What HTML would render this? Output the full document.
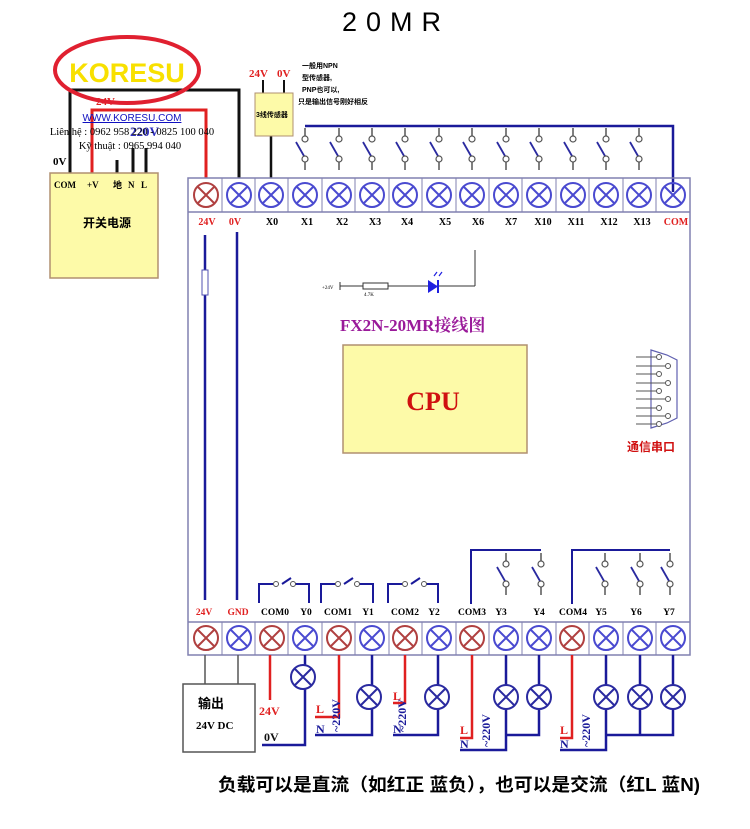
<!DOCTYPE html>
<html><head><meta charset="utf-8"><style>
html,body{margin:0;padding:0;background:#fff;width:750px;height:829px;overflow:hidden}
svg{display:block}
text{font-family:"Liberation Serif","Noto Serif CJK SC",serif;font-weight:bold}
.cn{font-family:"Liberation Sans","Noto Sans CJK SC",sans-serif}
</style></head><body>
<svg width="750" height="829" viewBox="0 0 750 829" xmlns="http://www.w3.org/2000/svg">
<defs>
<g id="tb"><circle r="12" fill="none" stroke="#4a4ad0" stroke-width="2"/><path d="M-8.5,-8.5L8.5,8.5M8.5,-8.5L-8.5,8.5" stroke="#4a4ad0" stroke-width="2"/></g>
<g id="tr"><circle r="12" fill="none" stroke="#b04040" stroke-width="2"/><path d="M-8.5,-8.5L8.5,8.5M8.5,-8.5L-8.5,8.5" stroke="#b04040" stroke-width="2"/></g>
<g id="lp"><circle r="12" fill="#fff" stroke="#2a2aa0" stroke-width="2"/><path d="M-8.5,-8.5L8.5,8.5M8.5,-8.5L-8.5,8.5" stroke="#2a2aa0" stroke-width="2"/></g>
<g id="sw"><line x1="0" y1="-22" x2="0" y2="-14" stroke="#555" stroke-width="1.5"/><circle cy="-11" r="3" fill="#fff" stroke="#555" stroke-width="1.2"/><line x1="-9" y1="-8" x2="-1" y2="6" stroke="#2a2aa0" stroke-width="1.8"/><circle cy="9" r="3" fill="#fff" stroke="#555" stroke-width="1.2"/><line x1="0" y1="12" x2="0" y2="20" stroke="#555" stroke-width="1.5"/></g>
</defs>

<text x="342" y="31" font-size="27" letter-spacing="9" style="font-weight:normal;font-family:'Liberation Sans',sans-serif">20MR</text>

<!-- power supply wiring -->
<path d="M70,178V90H239V178" fill="none" stroke="#111" stroke-width="3"/>
<path d="M92,178V110H206V178" fill="none" stroke="#e02020" stroke-width="3"/>
<line x1="117" y1="160" x2="117" y2="178" stroke="#111" stroke-width="3"/>
<line x1="133" y1="148" x2="133" y2="178" stroke="#111" stroke-width="3"/>
<line x1="146" y1="148" x2="146" y2="178" stroke="#111" stroke-width="3"/>
<rect x="50" y="173" width="108" height="105" fill="#fdfaa8" stroke="#b09070" stroke-width="1.5"/>
<text x="54" y="188" font-size="9">COM</text><text x="87" y="188" font-size="9">+V</text><text x="113" y="188" font-size="9" class="cn">地</text><text x="128" y="188" font-size="9">N</text><text x="141" y="188" font-size="9">L</text>
<text x="83" y="227" font-size="12" class="cn">开关电源</text>
<text x="53" y="165" font-size="11">0V</text>
<text x="96" y="105" font-size="11" fill="#e02020">24V</text>
<text x="130" y="136" font-size="13" fill="#3030c0">220V</text>

<!-- KORESU -->
<ellipse cx="127" cy="70" rx="72" ry="33" fill="none" stroke="#e02030" stroke-width="4"/>
<text x="127" y="82" font-size="27" fill="#f8e000" text-anchor="middle" style="font-family:'Liberation Sans',sans-serif">KORESU</text>
<text x="132" y="121" font-size="10" fill="#1010c0" text-anchor="middle" text-decoration="underline" style="font-family:'Liberation Sans',sans-serif;font-weight:normal">WWW.KORESU.COM</text>
<text x="132" y="135" font-size="10.5" text-anchor="middle" style="font-weight:normal">Liên hệ : 0962 958 220 - 0825 100 040</text>
<text x="130" y="149" font-size="10.5" text-anchor="middle" style="font-weight:normal">Kỹ thuật : 0965 994 040</text>

<!-- sensor -->
<line x1="263" y1="80" x2="263" y2="95" stroke="#111" stroke-width="2"/>
<line x1="284" y1="80" x2="284" y2="95" stroke="#111" stroke-width="2"/>
<line x1="271" y1="135" x2="271" y2="178" stroke="#111" stroke-width="2.5"/>
<rect x="255" y="93" width="38" height="43" fill="#fdfaa8" stroke="#b09070"/>
<text x="256" y="117" font-size="7" class="cn">3线传感器</text>
<text x="249" y="77" font-size="11" fill="#e02020">24V</text><text x="277" y="77" font-size="11" fill="#e02020">0V</text>
<text x="302" y="68" font-size="7" class="cn">一般用NPN</text>
<text x="302" y="80" font-size="7" class="cn">型传感器,</text>
<text x="302" y="92" font-size="7" class="cn">PNP也可以,</text>
<text x="298" y="104" font-size="7" class="cn">只是输出信号刚好相反</text>

<!-- input common line -->
<path d="M305,126H673V192" fill="none" stroke="#1a1a9a" stroke-width="2.5"/>
<g>
<use href="#sw" x="305" y="150"/><use href="#sw" x="339" y="150"/><use href="#sw" x="372" y="150"/><use href="#sw" x="405" y="150"/><use href="#sw" x="439" y="150"/><use href="#sw" x="472" y="150"/><use href="#sw" x="506" y="150"/><use href="#sw" x="539" y="150"/><use href="#sw" x="573" y="150"/><use href="#sw" x="606" y="150"/><use href="#sw" x="639" y="150"/>
</g>

<!-- board -->
<rect x="188" y="178" width="502" height="477" fill="none" stroke="#8080b0" stroke-width="1.5"/>
<line x1="188" y1="212" x2="690" y2="212" stroke="#8080b0" stroke-width="1.5"/>
<line x1="188" y1="622" x2="690" y2="622" stroke="#8080b0" stroke-width="1.5"/>
<g stroke="#8080b0" stroke-width="1">
<line x1="222" y1="178" x2="222" y2="212"/><line x1="255" y1="178" x2="255" y2="212"/><line x1="288" y1="178" x2="288" y2="212"/><line x1="322" y1="178" x2="322" y2="212"/><line x1="355" y1="178" x2="355" y2="212"/><line x1="389" y1="178" x2="389" y2="212"/><line x1="422" y1="178" x2="422" y2="212"/><line x1="456" y1="178" x2="456" y2="212"/><line x1="489" y1="178" x2="489" y2="212"/><line x1="522" y1="178" x2="522" y2="212"/><line x1="556" y1="178" x2="556" y2="212"/><line x1="589" y1="178" x2="589" y2="212"/><line x1="623" y1="178" x2="623" y2="212"/><line x1="656" y1="178" x2="656" y2="212"/>
<line x1="222" y1="622" x2="222" y2="655"/><line x1="255" y1="622" x2="255" y2="655"/><line x1="288" y1="622" x2="288" y2="655"/><line x1="322" y1="622" x2="322" y2="655"/><line x1="355" y1="622" x2="355" y2="655"/><line x1="389" y1="622" x2="389" y2="655"/><line x1="422" y1="622" x2="422" y2="655"/><line x1="456" y1="622" x2="456" y2="655"/><line x1="489" y1="622" x2="489" y2="655"/><line x1="522" y1="622" x2="522" y2="655"/><line x1="556" y1="622" x2="556" y2="655"/><line x1="589" y1="622" x2="589" y2="655"/><line x1="623" y1="622" x2="623" y2="655"/><line x1="656" y1="622" x2="656" y2="655"/>
</g>
<use href="#tr" x="206" y="195"/><use href="#tb" x="239" y="195"/><use href="#tb" x="271" y="195"/><use href="#tb" x="305" y="195"/><use href="#tb" x="339" y="195"/><use href="#tb" x="372" y="195"/><use href="#tb" x="405" y="195"/><use href="#tb" x="439" y="195"/><use href="#tb" x="472" y="195"/><use href="#tb" x="506" y="195"/><use href="#tb" x="539" y="195"/><use href="#tb" x="573" y="195"/><use href="#tb" x="606" y="195"/><use href="#tb" x="639" y="195"/><use href="#tb" x="673" y="195"/>
<g font-size="10" text-anchor="middle">
<text x="207" y="225" fill="#e02020">24V</text><text x="235" y="225" fill="#e02020">0V</text><text x="272" y="225">X0</text><text x="307" y="225">X1</text><text x="342" y="225">X2</text><text x="375" y="225">X3</text><text x="407" y="225">X4</text><text x="445" y="225">X5</text><text x="478" y="225">X6</text><text x="511" y="225">X7</text><text x="543" y="225">X10</text><text x="576" y="225">X11</text><text x="609" y="225">X12</text><text x="642" y="225">X13</text><text x="676" y="225" fill="#e02020">COM</text>
</g>
<line x1="205" y1="235" x2="205" y2="600" stroke="#1a1a9a" stroke-width="2.5"/>
<rect x="202" y="270" width="6" height="25" fill="#fff" stroke="#5050b0"/>
<line x1="237" y1="232" x2="237" y2="600" stroke="#1a1a9a" stroke-width="2.5"/>

<!-- LED -->
<line x1="340" y1="286" x2="475" y2="286" stroke="#333" stroke-width="1"/>
<line x1="340" y1="282" x2="340" y2="290" stroke="#333"/>
<text x="322" y="289" font-size="5" style="font-weight:normal">+24V</text>
<rect x="363" y="283" width="25" height="6" fill="#fff" stroke="#333"/>
<text x="364" y="296" font-size="5" style="font-weight:normal">4.7K</text>
<path d="M428,280L428,293L438,286.5Z" fill="#2020e0"/><line x1="438" y1="280" x2="438" y2="293" stroke="#2020e0" stroke-width="2"/>
<path d="M434,276l3,-4M439,276l3,-4" stroke="#2020e0" stroke-width="1.2"/>
<line x1="475" y1="250" x2="475" y2="286" stroke="#333" stroke-width="1"/>

<text x="340" y="331" font-size="17" fill="#9a1a9a">FX2N-20MR接线图</text>
<rect x="343" y="345" width="184" height="108" fill="#fdfaa8" stroke="#b09070" stroke-width="1.5"/>
<text x="433" y="410" font-size="26" fill="#d01010" text-anchor="middle">CPU</text>

<!-- serial -->
<path d="M651,350L667,355L677,360L677,418L667,423L651,428Z" fill="none" stroke="#6060b0" stroke-width="1.2"/>
<g stroke="#555" stroke-width="1" fill="#fff">
<line x1="636" y1="357" x2="656" y2="357"/><line x1="636" y1="366" x2="665" y2="366"/><line x1="636" y1="374" x2="656" y2="374"/><line x1="636" y1="383" x2="665" y2="383"/><line x1="636" y1="391" x2="656" y2="391"/><line x1="636" y1="399" x2="665" y2="399"/><line x1="636" y1="408" x2="656" y2="408"/><line x1="636" y1="416" x2="665" y2="416"/><line x1="636" y1="424" x2="656" y2="424"/>
<circle cx="659" cy="357" r="2.5"/><circle cx="668" cy="366" r="2.5"/><circle cx="659" cy="374" r="2.5"/><circle cx="668" cy="383" r="2.5"/><circle cx="659" cy="391" r="2.5"/><circle cx="668" cy="399" r="2.5"/><circle cx="659" cy="408" r="2.5"/><circle cx="668" cy="416" r="2.5"/><circle cx="659" cy="424" r="2.5"/>
</g>
<text x="627" y="451" font-size="12" fill="#d01010" class="cn">通信串口</text>

<!-- output relays -->
<g fill="none" stroke="#1a1a9a" stroke-width="2">
<path d="M259,603V584H273"/><path d="M294,584H309V603"/>
<path d="M321,603V584H335"/><path d="M356,584H373V603"/>
<path d="M388,603V584H402"/><path d="M423,584H438V603"/>
<line x1="282" y1="584" x2="291" y2="578"/><line x1="344" y1="584" x2="353" y2="578"/><line x1="411" y1="584" x2="420" y2="578"/>
<path d="M471,604V550H541"/><path d="M572,604V550H670"/>
</g>
<g fill="#fff" stroke="#555" stroke-width="1"><circle cx="276" cy="584" r="2.5"/><circle cx="293" cy="584" r="2.5"/><circle cx="338" cy="584" r="2.5"/><circle cx="357" cy="584" r="2.5"/><circle cx="405" cy="584" r="2.5"/><circle cx="424" cy="584" r="2.5"/></g>
<use href="#sw" x="506" y="575"/><use href="#sw" x="541" y="575"/><use href="#sw" x="605" y="575"/><use href="#sw" x="640" y="575"/><use href="#sw" x="670" y="575"/>
<g font-size="9.5" text-anchor="middle">
<text x="204" y="615" fill="#e02020">24V</text><text x="238" y="615" fill="#e02020">GND</text><text x="275" y="615">COM0</text><text x="306" y="615">Y0</text><text x="338" y="615">COM1</text><text x="368" y="615">Y1</text><text x="405" y="615">COM2</text><text x="434" y="615">Y2</text><text x="472" y="615">COM3</text><text x="501" y="615">Y3</text><text x="539" y="615">Y4</text><text x="573" y="615">COM4</text><text x="601" y="615">Y5</text><text x="636" y="615">Y6</text><text x="669" y="615">Y7</text>
</g>
<use href="#tr" x="206" y="638"/><use href="#tb" x="239" y="638"/><use href="#tr" x="272" y="638"/><use href="#tb" x="305" y="638"/><use href="#tr" x="339" y="638"/><use href="#tb" x="372" y="638"/><use href="#tr" x="405" y="638"/><use href="#tb" x="439" y="638"/><use href="#tr" x="472" y="638"/><use href="#tb" x="506" y="638"/><use href="#tb" x="539" y="638"/><use href="#tr" x="572" y="638"/><use href="#tb" x="606" y="638"/><use href="#tb" x="640" y="638"/><use href="#tb" x="673" y="638"/>

<!-- bottom wiring -->
<line x1="205" y1="655" x2="205" y2="684" stroke="#555" stroke-width="1.5"/>
<line x1="238" y1="655" x2="238" y2="684" stroke="#555" stroke-width="1.5"/>
<rect x="183" y="684" width="72" height="68" fill="#fff" stroke="#555" stroke-width="1.5"/>
<text x="198" y="708" font-size="13" class="cn">输出</text>
<text x="196" y="729" font-size="11">24V  DC</text>
<g fill="none" stroke-width="2.5">
<path d="M270,655V700" stroke="#e02020"/>
<path d="M305,655V745H262" stroke="#1a1a9a"/>
<path d="M339,655V717H315" stroke="#e02020"/>
<path d="M315,735H372V655" stroke="#1a1a9a"/>
<path d="M405,655V703H393" stroke="#e02020"/>
<path d="M393,735H438V655" stroke="#1a1a9a"/>
<path d="M472,655V738H460" stroke="#e02020"/>
<path d="M460,750H506V735M506,655V735H539V655" stroke="#1a1a9a"/>
<path d="M572,655V738H560" stroke="#e02020"/>
<path d="M560,750H606V735M606,655V735H673V655M640,655V735" stroke="#1a1a9a"/>
</g>
<use href="#lp" x="303" y="677"/><use href="#lp" x="369" y="697"/><use href="#lp" x="437" y="697"/><use href="#lp" x="506" y="697"/><use href="#lp" x="539" y="697"/><use href="#lp" x="606" y="697"/><use href="#lp" x="640" y="697"/><use href="#lp" x="673" y="697"/>
<text x="259" y="715" font-size="12" fill="#e02020">24V</text>
<text x="264" y="741" font-size="12" fill="#111">0V</text>
<text x="316" y="713" font-size="12" fill="#e02020">L</text><text x="316" y="733" font-size="12" fill="#1a1a9a">N</text>
<text x="393" y="700" font-size="12" fill="#e02020">L</text><text x="393" y="733" font-size="12" fill="#1a1a9a">N</text>
<text x="460" y="734" font-size="12" fill="#e02020">L</text><text x="460" y="748" font-size="12" fill="#1a1a9a">N</text>
<text x="560" y="734" font-size="12" fill="#e02020">L</text><text x="560" y="748" font-size="12" fill="#1a1a9a">N</text>
<g font-size="12" fill="#1a1a9a">
<text transform="translate(340,732) rotate(-90)">~220V</text>
<text transform="translate(406,732) rotate(-90)">~220V</text>
<text transform="translate(490,747) rotate(-90)">~220V</text>
<text transform="translate(590,747) rotate(-90)">~220V</text>
</g>
<text x="218" y="791" font-size="18" class="cn" textLength="482" lengthAdjust="spacingAndGlyphs">负载可以是直流（如红正 蓝负），也可以是交流（红L 蓝N)</text>
</svg>
</body></html>
